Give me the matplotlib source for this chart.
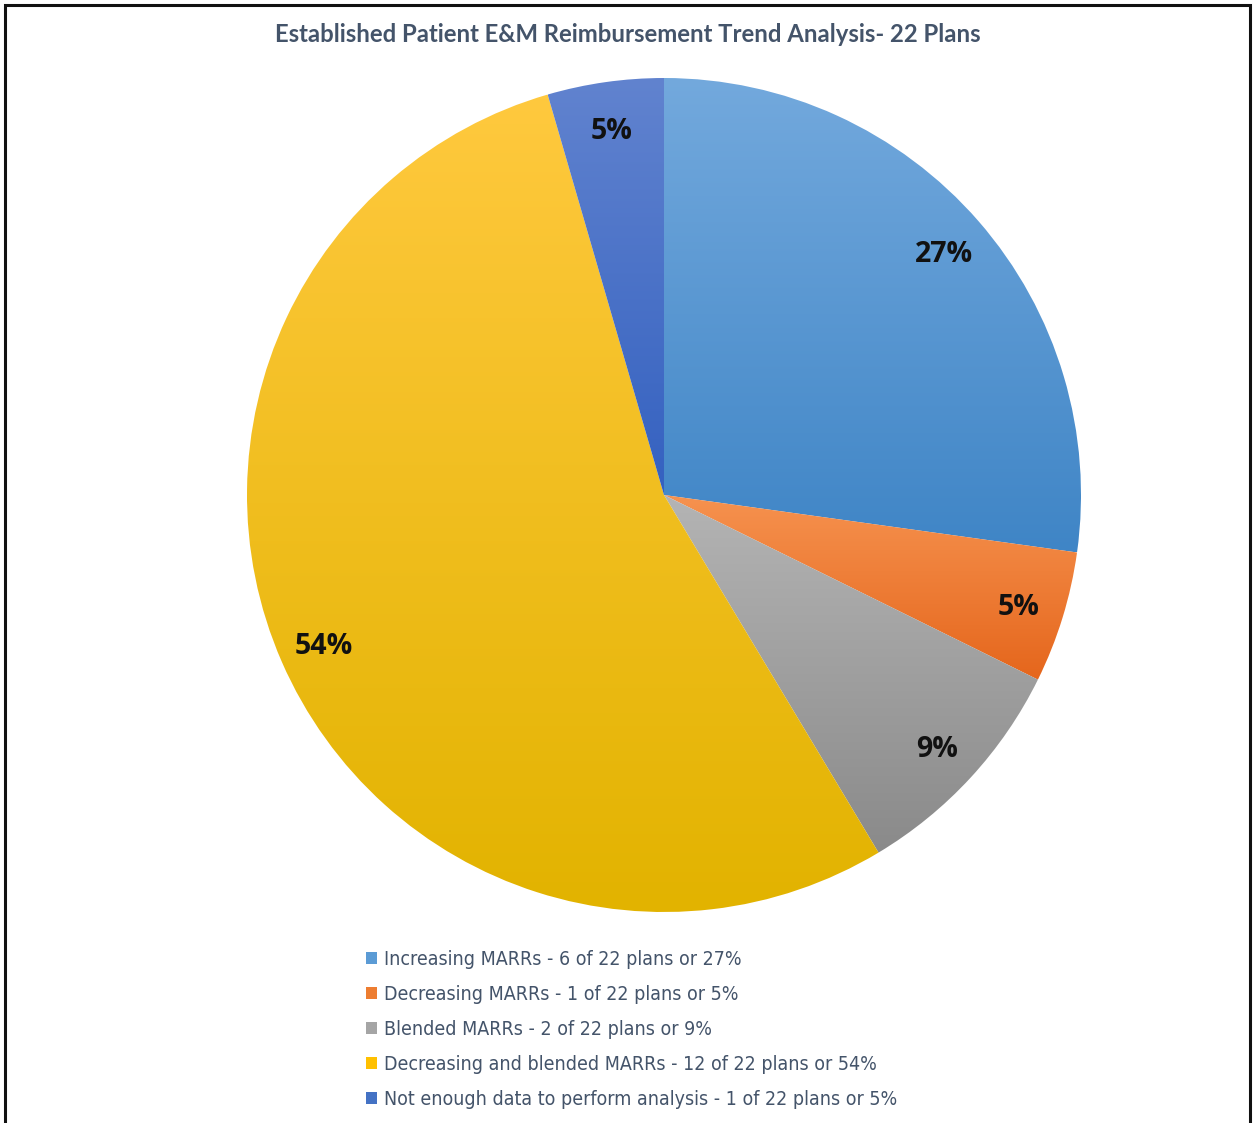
import numpy as np
import matplotlib
matplotlib.use('Agg')
import matplotlib.pyplot as plt
from matplotlib.colors import LinearSegmentedColormap
from matplotlib.patches import Patch, Rectangle
from matplotlib.font_manager import FontProperties

categories = ['Increasing MARRs - 6 of 22 plans or 27%',
              'Decreasing MARRs - 1 of 22 plans or 5%',
              'Blended MARRs - 2 of 22 plans or 9%',
              'Decreasing and blended MARRs - 12 of 22 plans or 54%',
              'Not enough data to perform analysis - 1 of 22 plans or 5%']
shares = [27.2, 5.1, 9.1, 54.1, 4.5]
pct_labels = ['27%', '5%', '9%', '54%', '5%']

# gradient colours (top, bottom) for each slice, plus legend colour
grad_top = ['#73a9dd', '#f6924f', '#b4b4b4', '#ffc93e', '#6183cf']
grad_bot = ['#3f85c6', '#e5661c', '#8a8a8a', '#e2b300', '#3461c0']
legend_cols = ['#5b9bd5', '#ed7d31', '#a5a5a5', '#ffc000', '#4472c4']

W, H = 1253, 1123
fig = plt.figure(figsize=(W / 100, H / 100), dpi=100)

# outer frame (bottom edge runs off the picture)
fig.patches.append(Rectangle((5 / W, -0.01), 1245 / W, (H - 5) / H + 0.01,
                             transform=fig.transFigure, fill=False,
                             edgecolor='#111111', linewidth=2.2))

cx, cy, R = 664, 495, 417
ax = fig.add_axes([(cx - R) / W, (H - cy - R) / H, 2 * R / W, 2 * R / H])

wedges, _ = ax.pie(shares, startangle=90, counterclock=False,
                   radius=1, colors=['none'] * 5,
                   wedgeprops=dict(linewidth=0))

grad = np.linspace(0, 1, 256).reshape(-1, 1)
for w, c0, c1, txt in zip(wedges, grad_top, grad_bot, pct_labels):
    ext = w.get_path().get_extents()
    cmap = LinearSegmentedColormap.from_list('g', [c0, c1])
    ax.imshow(grad, cmap=cmap, aspect='auto', origin='upper',
              extent=[ext.x0, ext.x1, ext.y0, ext.y1],
              clip_path=w, interpolation='bilinear', zorder=1)
    mid = np.deg2rad((w.theta1 + w.theta2) / 2)
    ax.text(0.89 * np.cos(mid), 0.89 * np.sin(mid), txt, ha='center',
            va='center_baseline', fontsize=20.5, fontweight='bold',
            color='#111111', family='Open Sans', zorder=3)

ax.set_xlim(-1, 1)
ax.set_ylim(-1, 1)
ax.set_aspect('equal')
ax.axis('off')

fig.text(628 / W, 1 - 35 / H, 'Established Patient E&M Reimbursement Trend Analysis- 22 Plans',
         ha='center', va='center', fontsize=17.2, fontweight='bold',
         color='#44546a', family='Lato')

handles = [Patch(facecolor=c, edgecolor='none') for c in legend_cols]
leg_font = FontProperties(family='DejaVu Sans', stretch='condensed', size=14)
leg = fig.legend(handles, categories, loc='upper left',
                 bbox_to_anchor=(366 / W, 1 - 950 / H), frameon=False,
                 prop=leg_font,
                 handlelength=0.55, handleheight=0.55, handletextpad=0.4,
                 labelspacing=0.82, borderpad=0, borderaxespad=0)
for t in leg.get_texts():
    t.set_color('#44546a')

fig.savefig('out.png', dpi=100)
